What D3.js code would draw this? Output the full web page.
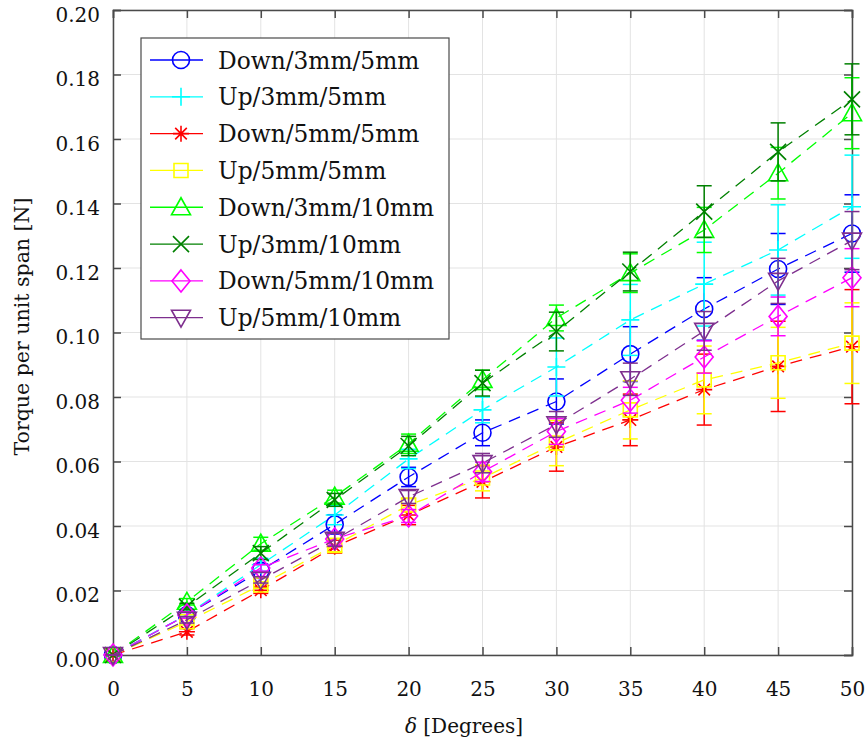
<!DOCTYPE html>
<html>
<head>
<meta charset="utf-8">
<script src="https://cdn.jsdelivr.net/npm/d3@7"></script>
<style>
  html, body { margin: 0; padding: 0; background: #fff; }
  svg { display: block; }
  text { font-family: "DejaVu Serif", "Liberation Serif", serif; fill: #111; }
</style>
</head>
<body>
<svg id="chart" width="867" height="746"></svg>
<script>
// Deflection angles (degrees)
const angles = [0, 5, 10, 15, 20, 25, 30, 35, 40, 45, 50];

// Mean torque per unit span [N] for each configuration
const down3mm5mm  = [0, 0.0124, 0.0262, 0.0405, 0.0552, 0.0689, 0.0786, 0.0933, 0.1073, 0.1197, 0.1307];
const up3mm5mm    = [0, 0.0125, 0.0280, 0.0434, 0.0608, 0.0760, 0.0893, 0.1039, 0.1150, 0.1256, 0.1390];
const down5mm5mm  = [0, 0.0072, 0.0201, 0.0336, 0.0434, 0.0537, 0.0645, 0.0729, 0.0823, 0.0895, 0.0956];
const up5mm5mm    = [0, 0.0103, 0.0217, 0.0340, 0.0465, 0.0549, 0.0657, 0.0760, 0.0853, 0.0906, 0.0967];
const down3mm10mm = [0, 0.0165, 0.0345, 0.0491, 0.0655, 0.0853, 0.1045, 0.1184, 0.1318, 0.1494, 0.1680];
const up3mm10mm   = [0, 0.0150, 0.0316, 0.0481, 0.0648, 0.0843, 0.1003, 0.1189, 0.1375, 0.1560, 0.1723];
const down5mm10mm = [0, 0.0124, 0.0270, 0.0360, 0.0431, 0.0568, 0.0693, 0.0790, 0.0924, 0.1050, 0.1170];
const up5mm10mm   = [0, 0.0109, 0.0233, 0.0357, 0.0490, 0.0595, 0.0715, 0.0855, 0.1005, 0.1160, 0.1285];

// Error bar half-lengths (standard deviation)
const errDown3mm5mm  = [0, 0.001, 0.002, 0.003, 0.003, 0.004, 0.007, 0.0085, 0.0097, 0.011, 0.012];
const errUp3mm5mm    = [0, 0.001, 0.002, 0.003, 0.003, 0.004, 0.009, 0.011, 0.013, 0.014, 0.016];
const errDown5mm5mm  = [0, 0.001, 0.001, 0.002, 0.003, 0.005, 0.0075, 0.008, 0.011, 0.014, 0.0177];
const errUp5mm5mm    = [0, 0.001, 0.001, 0.002, 0.002, 0.004, 0.007, 0.009, 0.0105, 0.011, 0.0125];
const errDown3mm10mm = [0, 0.001, 0.002, 0.002, 0.003, 0.003, 0.004, 0.006, 0.007, 0.008, 0.011];
const errUp3mm10mm   = [0, 0.001, 0.002, 0.002, 0.003, 0.004, 0.006, 0.006, 0.008, 0.009, 0.011];
const errDown5mm10mm = [0, 0.001, 0.001, 0.002, 0.002, 0.003, 0.004, 0.004, 0.005, 0.006, 0.009];
const errUp5mm10mm   = [0, 0.001, 0.001, 0.002, 0.002, 0.003, 0.004, 0.005, 0.006, 0.007, 0.009];

const seriesNames = ["Down/3mm/5mm", "Up/3mm/5mm", "Down/5mm/5mm", "Up/5mm/5mm",
                     "Down/3mm/10mm", "Up/3mm/10mm", "Down/5mm/10mm", "Up/5mm/10mm"];
const seriesValues = [down3mm5mm, up3mm5mm, down5mm5mm, up5mm5mm,
                      down3mm10mm, up3mm10mm, down5mm10mm, up5mm10mm];
const seriesErrors = [errDown3mm5mm, errUp3mm5mm, errDown5mm5mm, errUp5mm5mm,
                      errDown3mm10mm, errUp3mm10mm, errDown5mm10mm, errUp5mm10mm];

const xTicks = [0, 5, 10, 15, 20, 25, 30, 35, 40, 45, 50];
const yTicks = [0, 0.02, 0.04, 0.06, 0.08, 0.10, 0.12, 0.14, 0.16, 0.18, 0.20];

// Styling per series
const colors  = ["#0000ff", "#00ffff", "#ff0000", "#ffff00", "#00ff00", "#008000", "#ff00ff", "#7e2f8e"];
const markers = ["circle", "plus", "asterisk", "square", "triangleUp", "cross", "diamond", "triangleDown"];

const svg = d3.select("#chart");
const plotLeft = 113, plotRight = 852, plotTop = 10, plotBottom = 655;

const x = d3.scaleLinear().domain([0, 50]).range([plotLeft, plotRight]);
const y = d3.scaleLinear().domain([0, 0.20]).range([plotBottom, plotTop]);

// Grid
const grid = svg.append("g").attr("stroke", "#e3e3e3").attr("stroke-width", 1);
grid.selectAll("line.gx").data(xTicks).join("line").attr("class", "gx")
  .attr("x1", d => x(d)).attr("x2", d => x(d)).attr("y1", plotTop).attr("y2", plotBottom);
grid.selectAll("line.gy").data(yTicks).join("line").attr("class", "gy")
  .attr("x1", plotLeft).attr("x2", plotRight).attr("y1", d => y(d)).attr("y2", d => y(d));

// Axes with inward ticks on all four sides
const tickLen = 8;
const axisColor = "#4a4a4a";
const fmtY = d3.format(".2f");

const gBottom = svg.append("g").attr("transform", `translate(0,${plotBottom})`)
  .call(d3.axisBottom(x).tickValues(xTicks).tickSize(-tickLen).tickPadding(27).tickFormat(d3.format("d")));
const gTop = svg.append("g").attr("transform", `translate(0,${plotTop})`)
  .call(d3.axisTop(x).tickValues(xTicks).tickSize(-tickLen).tickFormat(""));
const gLeft = svg.append("g").attr("transform", `translate(${plotLeft},0)`)
  .call(d3.axisLeft(y).tickValues(yTicks).tickSize(-tickLen).tickPadding(13).tickFormat(fmtY));
const gRight = svg.append("g").attr("transform", `translate(${plotRight},0)`)
  .call(d3.axisRight(y).tickValues(yTicks).tickSize(-tickLen).tickFormat(""));

[gBottom, gTop, gLeft, gRight].forEach(g => {
  g.select(".domain").attr("stroke", axisColor).attr("stroke-width", 1.5);
  g.selectAll(".tick line").attr("stroke", axisColor).attr("stroke-width", 1.5);
  g.selectAll(".tick text").attr("fill", "#111")
    .style("font-family", '"DejaVu Serif", serif').style("font-size", "20px");
});
gLeft.selectAll(".tick text").attr("dy", "0.55em");

// Axis labels
svg.append("text")
  .attr("x", 464).attr("y", 733)
  .attr("text-anchor", "middle")
  .style("font-size", "20px")
  .html('<tspan font-style="italic">δ</tspan> [Degrees]');

svg.append("text")
  .attr("transform", `translate(29,${(plotTop + plotBottom) / 2 - 6}) rotate(-90)`)
  .attr("text-anchor", "middle")
  .style("font-size", "20.5px")
  .text("Torque per unit span [N]");

// Marker path generator centred on (0,0)
function markerPath(type) {
  const p = d3.path();
  switch (type) {
    case "circle":
      p.moveTo(8.5, 0); p.arc(0, 0, 8.5, 0, 2 * Math.PI); break;
    case "plus":
      p.moveTo(-9, 0); p.lineTo(9, 0); p.moveTo(0, -9); p.lineTo(0, 9); break;
    case "asterisk": {
      const s = 8, d = 5.8;
      p.moveTo(-s, 0); p.lineTo(s, 0); p.moveTo(0, -s); p.lineTo(0, s);
      p.moveTo(-d, -d); p.lineTo(d, d); p.moveTo(-d, d); p.lineTo(d, -d); break;
    }
    case "square":
      p.rect(-7, -7, 14, 14); break;
    case "triangleUp":
      p.moveTo(0, -9.5); p.lineTo(9.5, 7.5); p.lineTo(-9.5, 7.5); p.closePath(); break;
    case "triangleDown":
      p.moveTo(0, 9.5); p.lineTo(9.5, -7.5); p.lineTo(-9.5, -7.5); p.closePath(); break;
    case "cross":
      p.moveTo(-8, -8); p.lineTo(8, 8); p.moveTo(-8, 8); p.lineTo(8, -8); break;
    case "diamond":
      p.moveTo(0, -11); p.lineTo(9, 0); p.lineTo(0, 11); p.lineTo(-9, 0); p.closePath(); break;
  }
  return p.toString();
}

const line = d3.line().x(d => x(d.a)).y(d => y(d.v));
const capHalf = 7.5;

seriesNames.forEach((name, i) => {
  const pts = angles.map((a, j) => ({ a, v: seriesValues[i][j], e: seriesErrors[i][j] }));
  const g = svg.append("g").attr("stroke", colors[i]).attr("fill", "none");

  // Error bars
  const eb = g.append("g").attr("stroke-width", 1.5);
  eb.selectAll("line.v").data(pts).join("line").attr("class", "v")
    .attr("x1", d => x(d.a)).attr("x2", d => x(d.a))
    .attr("y1", d => y(d.v - d.e)).attr("y2", d => y(d.v + d.e));
  eb.selectAll("line.t").data(pts).join("line").attr("class", "t")
    .attr("x1", d => x(d.a) - capHalf).attr("x2", d => x(d.a) + capHalf)
    .attr("y1", d => y(d.v + d.e)).attr("y2", d => y(d.v + d.e));
  eb.selectAll("line.b").data(pts).join("line").attr("class", "b")
    .attr("x1", d => x(d.a) - capHalf).attr("x2", d => x(d.a) + capHalf)
    .attr("y1", d => y(d.v - d.e)).attr("y2", d => y(d.v - d.e));

  // Dashed connecting line
  g.append("path").attr("d", line(pts))
    .attr("stroke-width", 1.3).attr("stroke-dasharray", "12,8");

  // Markers
  g.selectAll("path.m").data(pts).join("path")
    .attr("class", "m")
    .attr("transform", d => `translate(${x(d.a)},${y(d.v)})`)
    .attr("d", markerPath(markers[i]))
    .attr("stroke-width", 1.6);
});

// Legend
const lg = svg.append("g");
lg.append("rect")
  .attr("x", 141).attr("y", 38).attr("width", 308).attr("height", 301)
  .attr("fill", "#fff").attr("stroke", "#4a4a4a").attr("stroke-width", 1.2);

const rowY = d3.scaleLinear().domain([0, 7]).range([60, 317.7]);
seriesNames.forEach((name, i) => {
  const yy = rowY(i);
  const row = lg.append("g").attr("stroke", colors[i]).attr("fill", "none");
  row.append("line").attr("x1", 150).attr("x2", 203).attr("y1", yy).attr("y2", yy).attr("stroke-width", 1.3);
  row.append("path").attr("transform", `translate(181,${yy})`).attr("d", markerPath(markers[i])).attr("stroke-width", 1.6);
  lg.append("text").attr("x", 218).attr("y", yy + 8.5)
    .style("font-size", "23.3px")
    .text(name);
});
</script>
</body>
</html>
